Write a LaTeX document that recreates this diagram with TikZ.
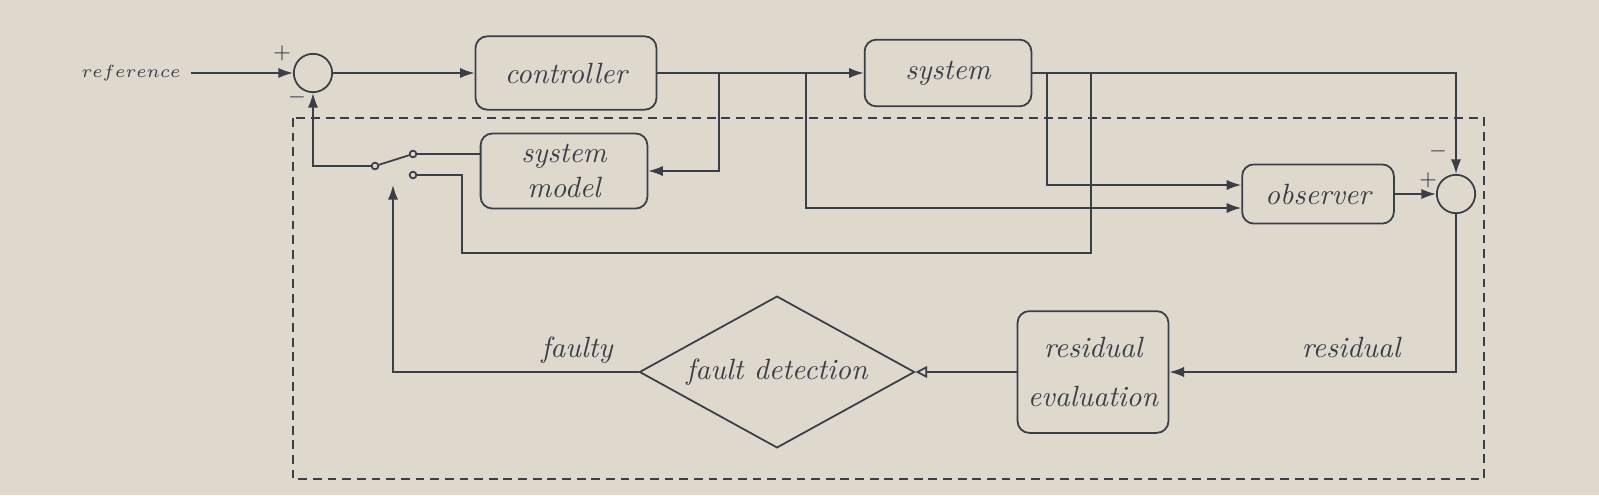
\documentclass[tikz,border=0pt]{standalone}
\usepackage{tikz}
\usepackage{amsmath}
\usetikzlibrary{shapes.geometric,arrows.meta,calc}
\definecolor{paper}{RGB}{222,216,205}
\definecolor{ink}{RGB}{58,62,72}
\tikzset{
  block/.style={draw=ink,rounded corners=4pt,font=\itshape,align=center,inner sep=2pt},
  sumnode/.style={draw=ink,circle,minimum size=0.46cm,inner sep=0pt},
  contact/.style={draw=ink,fill=paper,circle,minimum size=0.08cm,inner sep=0pt},
  decision/.style={draw=ink,diamond,aspect=1.8,font=\itshape,minimum width=3.3cm,minimum height=1.82cm,inner sep=0pt},
  sign/.style={text=ink,font=\scriptsize,inner sep=0pt},
}

\begin{document}
\begin{tikzpicture}[x=0.012cm,y=-0.012cm,ink,semithick,>={Latex[length=5pt,width=3.5pt]}]
	% paper
	\fill[paper] (0,0) rectangle (1599,495);
	% blocks
	\node[font=\fontsize{6}{7}\selectfont] (ref) at (131,73) {$reference$};
	\node[sumnode] (sumA) at (313,73) {};
	\node[block,minimum width=2.17cm,minimum height=0.88cm] (ctrl) at (566,73) {controller};
	\node[block,minimum width=2.0cm,minimum height=0.8cm] (sys) at (948,73) {system};
	\node[block,minimum width=2.0cm,minimum height=0.9cm] (model) at (564,171) {system\\model};
	\node[block,minimum width=1.82cm,minimum height=0.71cm] (obs) at (1318,194) {observer};
	\node[sumnode] (sumB) at (1456,194) {};
	\node[block,minimum width=1.81cm,minimum height=1.46cm] (reval) at (1093,372) {residual\\[5pt]evaluation};
	\node[decision] (fdet) at (777,372) {fault detection};
	% switch
	\node[contact] (swp) at (375,166) {};
	\node[contact] (swup) at (413,154) {};
	\node[contact] (swlow) at (413,175) {};
	\coordinate (swin) at (393,185);
	% branch points
	\coordinate (b1) at (719,73);
	\coordinate (b2) at (806,73);
	\coordinate (b3) at (1047,73);
	\coordinate (b4) at (1091,73);
	% connectors
	\draw[->] (ref) -- (sumA);
	\draw[->] (sumA) -- (ctrl);
	\draw[->] (ctrl) -- (sys);
	\draw[->] (sys) -| (sumB);
	\draw[->] (b1) |- (model);
	\draw[->] (b2) |- ($(obs.west)+(0,14)$);
	\draw[->] (b3) |- ($(obs.west)+(0,-9)$);
	\draw (b4) |- (462,253) |- (swlow);
	\draw (swp) -- (swup);
	\draw (swup) -- (swup -| model.west);
	\draw[->] (swp) -| (sumA);
	\draw[->] (obs) -- (sumB);
	\draw[->] (sumB) |- (reval);
	\draw[-{Triangle[open,length=4pt,width=4pt]}] (reval) -- (fdet);
	\draw[->] (fdet) -| (swin);
	% signs and labels
	\node[sign] (pA) at (282,53) {$+$};
	\node[sign] (mA) at (297,97) {$-$};
	\node[sign] (pB) at (1428,180) {$+$};
	\node[sign] (mB) at (1438,151) {$-$};
	\node[font=\itshape] (lfaulty) at (577,350) {faulty};
	\node[font=\itshape] (lres) at (1351,347) {residual};
	% observer frame
	\draw[dash pattern=on 3pt off 2pt] (293,118) rectangle (1484,479);
\end{tikzpicture}
\end{document}
